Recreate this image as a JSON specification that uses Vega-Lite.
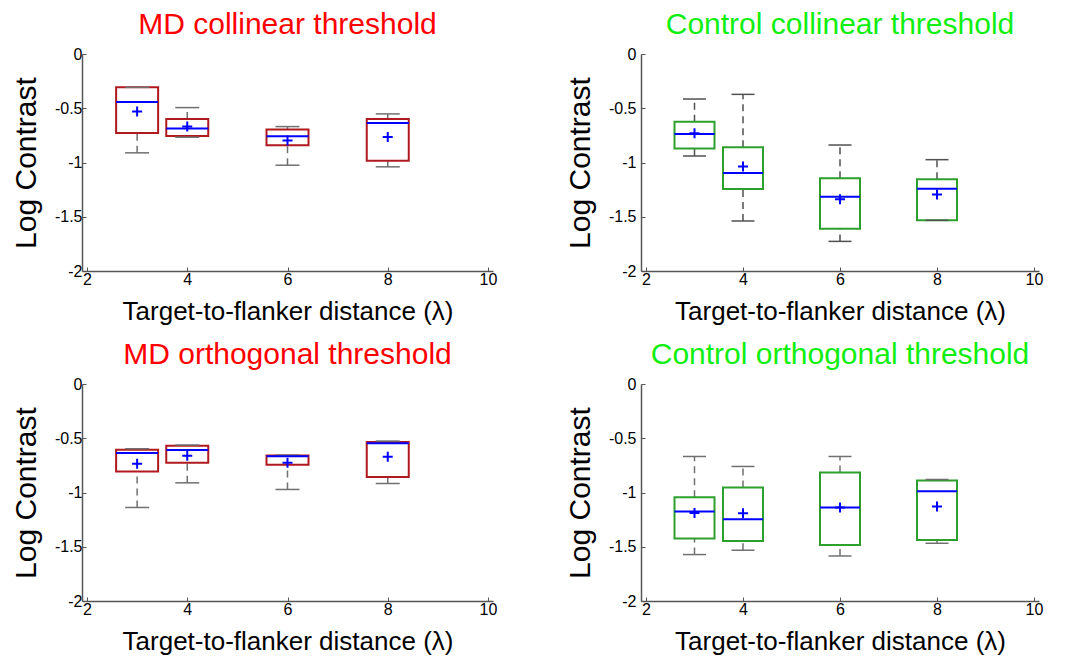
{
  "$schema": "https://vega.github.io/schema/vega-lite/v6.json",
  "padding": {"left": 11, "top": 10, "right": 5, "bottom": 5},
  "background": "white",
  "datasets": {
    "boxes": [
      {"panel": "MD collinear", "x": 3, "lo": -0.911, "q1": -0.727, "median": -0.442, "q3": -0.307, "hi": -0.307, "mean": -0.531},
      {"panel": "MD collinear", "x": 4, "lo": -0.767, "q1": -0.755, "median": -0.687, "q3": -0.598, "hi": -0.494, "mean": -0.669},
      {"panel": "MD collinear", "x": 6, "lo": -1.025, "q1": -0.840, "median": -0.758, "q3": -0.696, "hi": -0.669, "mean": -0.798},
      {"panel": "MD collinear", "x": 8, "lo": -1.040, "q1": -0.985, "median": -0.635, "q3": -0.598, "hi": -0.552, "mean": -0.764},
      {"panel": "Control collinear", "x": 3, "lo": -0.940, "q1": -0.872, "median": -0.737, "q3": -0.624, "hi": -0.415, "mean": -0.731},
      {"panel": "Control collinear", "x": 4, "lo": -1.539, "q1": -1.244, "median": -1.097, "q3": -0.860, "hi": -0.372, "mean": -1.038},
      {"panel": "Control collinear", "x": 6, "lo": -1.727, "q1": -1.610, "median": -1.315, "q3": -1.146, "hi": -0.839, "mean": -1.339},
      {"panel": "Control collinear", "x": 8, "lo": -1.533, "q1": -1.533, "median": -1.241, "q3": -1.155, "hi": -0.974, "mean": -1.296},
      {"panel": "MD orthogonal", "x": 3, "lo": -1.138, "q1": -0.806, "median": -0.637, "q3": -0.606, "hi": -0.597, "mean": -0.735},
      {"panel": "MD orthogonal", "x": 4, "lo": -0.911, "q1": -0.726, "median": -0.609, "q3": -0.569, "hi": -0.563, "mean": -0.662},
      {"panel": "MD orthogonal", "x": 6, "lo": -0.972, "q1": -0.745, "median": -0.665, "q3": -0.658, "hi": -0.655, "mean": -0.726},
      {"panel": "MD orthogonal", "x": 8, "lo": -0.917, "q1": -0.858, "median": -0.545, "q3": -0.535, "hi": -0.526, "mean": -0.671},
      {"panel": "Control orthogonal", "x": 3, "lo": -1.572, "q1": -1.425, "median": -1.175, "q3": -1.043, "hi": -0.668, "mean": -1.188},
      {"panel": "Control orthogonal", "x": 4, "lo": -1.532, "q1": -1.446, "median": -1.246, "q3": -0.954, "hi": -0.760, "mean": -1.191},
      {"panel": "Control orthogonal", "x": 6, "lo": -1.585, "q1": -1.483, "median": -1.138, "q3": -0.815, "hi": -0.668, "mean": -1.138},
      {"panel": "Control orthogonal", "x": 8, "lo": -1.468, "q1": -1.437, "median": -0.988, "q3": -0.889, "hi": -0.880, "mean": -1.129}
    ]
  },
  "columns": 2,
  "align": "each",
  "spacing": {"row": 16, "column": 68},
  "concat": [
    {
      "title": {"text": "MD collinear threshold", "color": "#ff0000"},
      "width": 411,
      "height": 217,
      "data": {"name": "boxes"},
      "transform": [{"filter": "datum.panel === 'MD collinear'"}],
      "encoding": {
        "x": {"field": "x", "type": "quantitative", "scale": {"domain": [2, 10], "nice": false}, "title": "Target-to-flanker distance (λ)"}
      },
      "layer": [
        {
          "mark": {"type": "rule", "color": "#707070", "strokeWidth": 1.5, "strokeDash": [7, 5]},
          "encoding": {
            "y": {"field": "q3", "type": "quantitative", "scale": {"domain": [-2, 0], "nice": false}, "title": "Log Contrast"},
            "y2": {"field": "hi"}
          }
        },
        {
          "mark": {"type": "rule", "color": "#707070", "strokeWidth": 1.5, "strokeDash": [7, 5]},
          "encoding": {
            "y": {"field": "lo", "type": "quantitative", "title": "Log Contrast"},
            "y2": {"field": "q1"}
          }
        },
        {
          "mark": {"type": "bar", "size": 42, "fill": "white", "stroke": "#b0191e", "strokeWidth": 2, "opacity": 1},
          "encoding": {
            "y": {"field": "q1", "type": "quantitative", "title": "Log Contrast"},
            "y2": {"field": "q3"}
          }
        },
        {
          "mark": {"type": "tick", "orient": "horizontal", "size": 24, "thickness": 1.5, "color": "#707070", "opacity": 1},
          "encoding": {"y": {"field": "hi", "type": "quantitative", "title": "Log Contrast"}}
        },
        {
          "mark": {"type": "tick", "orient": "horizontal", "size": 24, "thickness": 1.5, "color": "#707070", "opacity": 1},
          "encoding": {"y": {"field": "lo", "type": "quantitative", "title": "Log Contrast"}}
        },
        {
          "mark": {"type": "tick", "orient": "horizontal", "size": 42, "thickness": 2, "color": "#0000ff", "opacity": 1},
          "encoding": {"y": {"field": "median", "type": "quantitative", "title": "Log Contrast"}}
        },
        {
          "mark": {"type": "point", "shape": "M-1,0L1,0M0,-1L0,1", "size": 100, "filled": false, "color": "#0000ff", "strokeWidth": 2, "opacity": 1},
          "encoding": {"y": {"field": "mean", "type": "quantitative", "title": "Log Contrast"}}
        }
      ]
    },
    {
      "title": {"text": "Control collinear threshold", "color": "#11ee11"},
      "width": 398,
      "height": 217,
      "data": {"name": "boxes"},
      "transform": [{"filter": "datum.panel === 'Control collinear'"}],
      "encoding": {
        "x": {"field": "x", "type": "quantitative", "scale": {"domain": [2, 10], "nice": false}, "title": "Target-to-flanker distance (λ)"}
      },
      "layer": [
        {
          "mark": {"type": "rule", "color": "#505050", "strokeWidth": 1.5, "strokeDash": [7, 5]},
          "encoding": {
            "y": {"field": "q3", "type": "quantitative", "scale": {"domain": [-2, 0], "nice": false}, "title": "Log Contrast", "axis": {"labelPadding": 9}},
            "y2": {"field": "hi"}
          }
        },
        {
          "mark": {"type": "rule", "color": "#505050", "strokeWidth": 1.5, "strokeDash": [7, 5]},
          "encoding": {
            "y": {"field": "lo", "type": "quantitative", "title": "Log Contrast"},
            "y2": {"field": "q1"}
          }
        },
        {
          "mark": {"type": "bar", "size": 40, "fill": "white", "stroke": "#2ca02c", "strokeWidth": 2, "opacity": 1},
          "encoding": {
            "y": {"field": "q1", "type": "quantitative", "title": "Log Contrast"},
            "y2": {"field": "q3"}
          }
        },
        {
          "mark": {"type": "tick", "orient": "horizontal", "size": 23, "thickness": 1.5, "color": "#505050", "opacity": 1},
          "encoding": {"y": {"field": "hi", "type": "quantitative", "title": "Log Contrast"}}
        },
        {
          "mark": {"type": "tick", "orient": "horizontal", "size": 23, "thickness": 1.5, "color": "#505050", "opacity": 1},
          "encoding": {"y": {"field": "lo", "type": "quantitative", "title": "Log Contrast"}}
        },
        {
          "mark": {"type": "tick", "orient": "horizontal", "size": 40, "thickness": 2, "color": "#0000ff", "opacity": 1},
          "encoding": {"y": {"field": "median", "type": "quantitative", "title": "Log Contrast"}}
        },
        {
          "mark": {"type": "point", "shape": "M-1,0L1,0M0,-1L0,1", "size": 100, "filled": false, "color": "#0000ff", "strokeWidth": 2, "opacity": 1},
          "encoding": {"y": {"field": "mean", "type": "quantitative", "title": "Log Contrast"}}
        }
      ]
    },
    {
      "title": {"text": "MD orthogonal threshold", "color": "#ff0000"},
      "width": 411,
      "height": 217,
      "data": {"name": "boxes"},
      "transform": [{"filter": "datum.panel === 'MD orthogonal'"}],
      "encoding": {
        "x": {"field": "x", "type": "quantitative", "scale": {"domain": [2, 10], "nice": false}, "title": "Target-to-flanker distance (λ)"}
      },
      "layer": [
        {
          "mark": {"type": "rule", "color": "#707070", "strokeWidth": 1.5, "strokeDash": [7, 5]},
          "encoding": {
            "y": {"field": "q3", "type": "quantitative", "scale": {"domain": [-2, 0], "nice": false}, "title": "Log Contrast"},
            "y2": {"field": "hi"}
          }
        },
        {
          "mark": {"type": "rule", "color": "#707070", "strokeWidth": 1.5, "strokeDash": [7, 5]},
          "encoding": {
            "y": {"field": "lo", "type": "quantitative", "title": "Log Contrast"},
            "y2": {"field": "q1"}
          }
        },
        {
          "mark": {"type": "bar", "size": 42, "fill": "white", "stroke": "#b0191e", "strokeWidth": 2, "opacity": 1},
          "encoding": {
            "y": {"field": "q1", "type": "quantitative", "title": "Log Contrast"},
            "y2": {"field": "q3"}
          }
        },
        {
          "mark": {"type": "tick", "orient": "horizontal", "size": 24, "thickness": 1.5, "color": "#707070", "opacity": 1},
          "encoding": {"y": {"field": "hi", "type": "quantitative", "title": "Log Contrast"}}
        },
        {
          "mark": {"type": "tick", "orient": "horizontal", "size": 24, "thickness": 1.5, "color": "#707070", "opacity": 1},
          "encoding": {"y": {"field": "lo", "type": "quantitative", "title": "Log Contrast"}}
        },
        {
          "mark": {"type": "tick", "orient": "horizontal", "size": 42, "thickness": 2, "color": "#0000ff", "opacity": 1},
          "encoding": {"y": {"field": "median", "type": "quantitative", "title": "Log Contrast"}}
        },
        {
          "mark": {"type": "point", "shape": "M-1,0L1,0M0,-1L0,1", "size": 100, "filled": false, "color": "#0000ff", "strokeWidth": 2, "opacity": 1},
          "encoding": {"y": {"field": "mean", "type": "quantitative", "title": "Log Contrast"}}
        }
      ]
    },
    {
      "title": {"text": "Control orthogonal threshold", "color": "#11ee11"},
      "width": 398,
      "height": 217,
      "data": {"name": "boxes"},
      "transform": [{"filter": "datum.panel === 'Control orthogonal'"}],
      "encoding": {
        "x": {"field": "x", "type": "quantitative", "scale": {"domain": [2, 10], "nice": false}, "title": "Target-to-flanker distance (λ)"}
      },
      "layer": [
        {
          "mark": {"type": "rule", "color": "#707070", "strokeWidth": 1.5, "strokeDash": [7, 5]},
          "encoding": {
            "y": {"field": "q3", "type": "quantitative", "scale": {"domain": [-2, 0], "nice": false}, "title": "Log Contrast", "axis": {"labelPadding": 9}},
            "y2": {"field": "hi"}
          }
        },
        {
          "mark": {"type": "rule", "color": "#707070", "strokeWidth": 1.5, "strokeDash": [7, 5]},
          "encoding": {
            "y": {"field": "lo", "type": "quantitative", "title": "Log Contrast"},
            "y2": {"field": "q1"}
          }
        },
        {
          "mark": {"type": "bar", "size": 40, "fill": "white", "stroke": "#2ca02c", "strokeWidth": 2, "opacity": 1},
          "encoding": {
            "y": {"field": "q1", "type": "quantitative", "title": "Log Contrast"},
            "y2": {"field": "q3"}
          }
        },
        {
          "mark": {"type": "tick", "orient": "horizontal", "size": 23, "thickness": 1.5, "color": "#707070", "opacity": 1},
          "encoding": {"y": {"field": "hi", "type": "quantitative", "title": "Log Contrast"}}
        },
        {
          "mark": {"type": "tick", "orient": "horizontal", "size": 23, "thickness": 1.5, "color": "#707070", "opacity": 1},
          "encoding": {"y": {"field": "lo", "type": "quantitative", "title": "Log Contrast"}}
        },
        {
          "mark": {"type": "tick", "orient": "horizontal", "size": 40, "thickness": 2, "color": "#0000ff", "opacity": 1},
          "encoding": {"y": {"field": "median", "type": "quantitative", "title": "Log Contrast"}}
        },
        {
          "mark": {"type": "point", "shape": "M-1,0L1,0M0,-1L0,1", "size": 100, "filled": false, "color": "#0000ff", "strokeWidth": 2, "opacity": 1},
          "encoding": {"y": {"field": "mean", "type": "quantitative", "title": "Log Contrast"}}
        }
      ]
    }
  ],
  "config": {
    "view": {"stroke": null},
    "font": "Liberation Sans",
    "title": {"font": "Liberation Sans", "fontSize": 30, "fontWeight": "normal", "anchor": "middle", "offset": 6},
    "axis": {
      "grid": false,
      "domainColor": "#555555",
      "domainWidth": 1.5,
      "tickColor": "#555555",
      "tickSize": -4,
      "labelFont": "Liberation Sans",
      "labelFontSize": 16,
      "labelColor": "#000000",
      "titleFont": "Liberation Sans",
      "titleFontWeight": "normal",
      "titleColor": "#000000"
    },
    "axisX": {"tickCount": 4, "labelFlush": false, "labelPadding": 4, "titleFontSize": 26, "titlePadding": 11},
    "axisY": {"tickCount": 5, "labelPadding": 4, "titleFontSize": 30, "titlePadding": 13, "labelExpr": "replace(format(datum.value, '~g'), '\u2212', '-')"}
  }
}
